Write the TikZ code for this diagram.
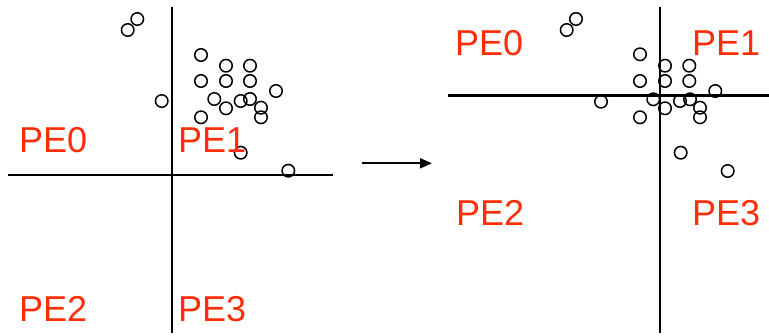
\documentclass[tikz,border=0pt]{standalone}
\usepackage{fontspec}
\setmainfont{Liberation Sans}
\usetikzlibrary{arrows.meta}
\definecolor{pered}{RGB}{255,45,5}
\begin{document}
\begin{tikzpicture}[x=1pt,y=-1pt,
  pt/.style={circle,draw=black,line width=1.5pt,minimum size=12.5pt,inner sep=0pt},
  axis/.style={line width=2.6pt,black},
  pelabel/.style={anchor=base west,inner sep=0pt,text=pered,font=\fontsize{36}{40}\selectfont}]
\useasboundingbox (0,0) rectangle (769,335);
% left axes
\coordinate (lvt) at (172,7);
\coordinate (lvb) at (172,333);
\coordinate (lhl) at (8,175);
\coordinate (lhr) at (333,175);
\draw[axis] (lvt) -- (lvb);
\draw[axis] (lhl) -- (lhr);
% right axes
\coordinate (rvt) at (660,7);
\coordinate (rvb) at (660,333);
\coordinate (rhl) at (448,95.7);
\coordinate (rhr) at (769,95.7);
\draw[axis] (rvt) -- (rvb);
\draw[axis] (rhl) -- (rhr);
% left points
\foreach \n/\x/\y in {a1/137.3/19, a2/127.7/30, a3/201/55, a4/226/65.7, a5/250/65.7,
  a6/201/81, a7/226/81, a8/250/81, a9/276/91, a10/161.7/101, a11/214.3/99,
  a12/240.7/101, a13/250/99, a14/261/107.7, a15/226/108.3, a16/261/117.3,
  a17/201/117.3, a18/240.7/152.7, a19/288.3/170.7}
  \node[pt] (\n) at (\x,\y) {};
% right points
\foreach \n/\x/\y in {b1/576/19, b2/566.7/30, b3/640/54.3, b4/665/65.7, b5/689.3/65.7,
  b6/640/81, b7/665/81, b8/689.3/81, b9/715.3/91, b10/601/101.7, b11/653.3/99.3,
  b12/680/101, b13/690/99.3, b14/700/107.7, b15/665/108.3, b16/700/117.3,
  b17/640/117.3, b18/680.7/152.7, b19/727.7/171}
  \node[pt] (\n) at (\x,\y) {};
% labels
\node[pelabel] (l0) at (19,152.5) {PE0};
\node[pelabel] (l1) at (178,152.5) {PE1};
\node[pelabel] (l2) at (19,321.5) {PE2};
\node[pelabel] (l3) at (178,321.5) {PE3};
\node[pelabel] (r0) at (455,55) {PE0};
\node[pelabel] (r1) at (692,55) {PE1};
\node[pelabel] (r2) at (456,225) {PE2};
\node[pelabel] (r3) at (692,225) {PE3};
% arrow
\coordinate (as) at (362,163.3);
\coordinate (ae) at (432,163.3);
\draw[line width=2pt,-{Triangle[length=12pt,width=10pt]}] (as) -- (ae);
\end{tikzpicture}
\end{document}
